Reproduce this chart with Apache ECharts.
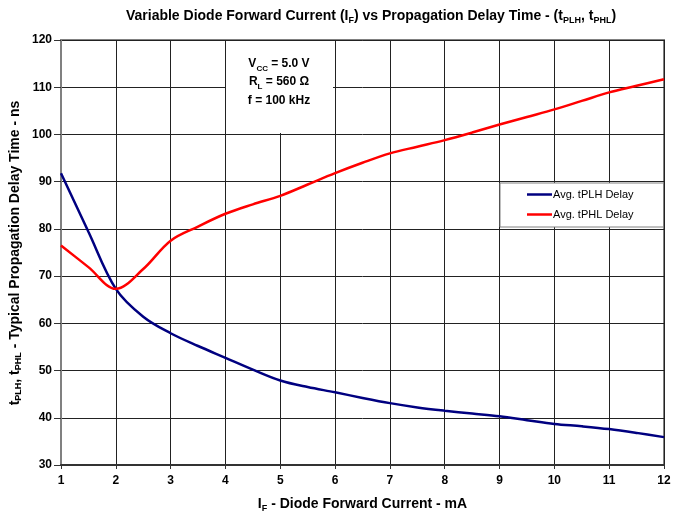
<!DOCTYPE html>
<html><head><meta charset="utf-8">
<script src="https://cdn.jsdelivr.net/npm/echarts@6/dist/echarts.min.js"></script>
<style>html,body{margin:0;padding:0;background:#fff}#c{width:682px;height:514px}</style>
</head><body><div id="c"></div>
<script>
const current = [1, 1.5, 2, 2.5, 3, 3.5, 4, 4.5, 5, 5.5, 6, 6.5, 7, 7.5, 8, 8.5, 9, 9.5, 10, 10.5, 11, 11.5, 12];
const tPLH = [91.8, 79.4, 67.3, 61.4, 57.9, 55.2, 52.7, 50.2, 47.9, 46.5, 45.4, 44.2, 43.1, 42.2, 41.5, 40.9, 40.3, 39.5, 38.7, 38.2, 37.6, 36.8, 35.9];
const tPHL = [76.5, 71.9, 67.3, 71.5, 77.5, 80.5, 83.2, 85.2, 87.0, 89.4, 91.8, 94.0, 96.0, 97.4, 98.8, 100.4, 102.1, 103.7, 105.3, 107.1, 108.9, 110.3, 111.7];
const xTicks = [1, 12, 1];
const yTicks = [30, 120, 10];
const seriesNames = ['Avg. tPLH Delay', 'Avg. tPHL Delay'];

const FF = '"Liberation Sans", Arial, sans-serif';
const chart = echarts.init(document.getElementById('c'), null, {renderer: 'canvas'});
const pair = (ys) => current.map((x, i) => [x, ys[i]]);
const richBold = (size, sub) => ({
  n: {fontSize: size, fontWeight: 'bold', fontFamily: FF, color: '#000', lineHeight: size + 3},
  s: {fontSize: sub, fontWeight: 'bold', fontFamily: FF, color: '#000', lineHeight: sub, verticalAlign: 'bottom'}
});

chart.setOption({
  animation: false,
  backgroundColor: '#fff',
  title: {
    text: '{n|Variable Diode Forward Current (I}{s|F}{n|) vs Propagation Delay Time - (t}{s|PLH}{n|, t}{s|PHL}{n|)}',
    left: 366, top: 3, textAlign: 'center',
    textStyle: {rich: richBold(14, 9)}
  },
  grid: {left: 61, right: 18, top: 40, bottom: 49, show: true, borderColor: '#808080', borderWidth: 2,
         backgroundColor: 'transparent', containLabel: false, outerBoundsMode: 'none'},
  legend: {
    orient: 'vertical', left: 500, top: 183,
    data: seriesNames.map(n => ({name: n, icon: 'rect'})),
    backgroundColor: '#fff', borderColor: '#808080', borderWidth: 1, borderRadius: 0,
    padding: [6, 30, 7, 27], itemGap: 9, itemWidth: 25, itemHeight: 2.5,
    textStyle: {fontFamily: FF, fontSize: 11, color: '#000', padding: [0, 0, 0, -4]}
  },
  xAxis: {
    type: 'value', min: xTicks[0], max: xTicks[1], interval: xTicks[2],
    name: '{n|I}{s|F}{n| - Diode Forward Current - mA}', nameLocation: 'middle', nameGap: 31,
    nameTextStyle: {rich: richBold(14, 9)},
    axisLine: {show: true, onZero: false, lineStyle: {color: '#333', width: 2}},
    axisTick: {show: true, inside: false, length: 4, lineStyle: {color: '#333'}},
    axisLabel: {fontFamily: FF, fontSize: 12, fontWeight: 'bold', color: '#000', margin: 10},
    splitLine: {show: true, lineStyle: {color: '#222', width: 1}}
  },
  yAxis: {
    type: 'value', min: yTicks[0], max: yTicks[1], interval: yTicks[2],
    axisLine: {show: true, lineStyle: {color: '#808080', width: 2}},
    axisTick: {show: true, inside: false, length: 7, lineStyle: {color: '#333'}},
    axisLabel: {fontFamily: FF, fontSize: 12, fontWeight: 'bold', color: '#000', margin: 9},
    splitLine: {show: true, lineStyle: {color: '#222', width: 1}}
  },
  graphic: [
    {type: 'rect', z: 100, shape: {x: 226, y: 41, width: 107, height: 92}, style: {fill: '#fff'}},
    {type: 'text', z: 101, x: 279, y: 54, style: {
      text: '{n|V}{s|CC}{n| = 5.0 V}\n{n|R}{s|L}{n| = 560 Ω}\n{n|f = 100 kHz}',
      align: 'center', rich: {
        n: {fontSize: 12, fontWeight: 'bold', fontFamily: FF, fill: '#000', lineHeight: 18.5},
        s: {fontSize: 8, fontWeight: 'bold', fontFamily: FF, fill: '#000', lineHeight: 12, verticalAlign: 'bottom'}
      }}},
    {type: 'text', z: 101, x: 15, y: 253, rotation: Math.PI / 2, style: {
      text: '{n|t}{s|PLH}{n|, t}{s|PHL}{n| - Typical Propagation Delay Time - ns}',
      align: 'center', verticalAlign: 'middle', rich: {
        n: {fontSize: 14, fontWeight: 'bold', fontFamily: FF, fill: '#000', lineHeight: 17},
        s: {fontSize: 9, fontWeight: 'bold', fontFamily: FF, fill: '#000', lineHeight: 9, verticalAlign: 'bottom'}
      }}}
  ],
  series: [
    {name: seriesNames[0], type: 'line', data: pair(tPLH), smooth: 0.35, symbol: 'none',
     lineStyle: {color: '#000080', width: 2.5}, itemStyle: {color: '#000080'}, z: 3},
    {name: seriesNames[1], type: 'line', data: pair(tPHL), smooth: 0.35, symbol: 'none',
     lineStyle: {color: '#ff0000', width: 2.5}, itemStyle: {color: '#ff0000'}, z: 4}
  ]
});
</script></body></html>
